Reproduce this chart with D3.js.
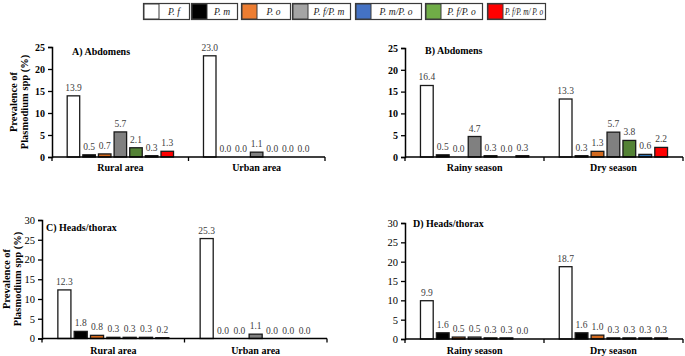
<!DOCTYPE html>
<html>
<head>
<meta charset="utf-8">
<script src="https://cdn.jsdelivr.net/npm/d3@7"></script>
<style>
  html, body { margin: 0; padding: 0; background: #fff; }
  svg { display: block; }
</style>
</head>
<body>
<svg id="chart" width="685" height="356" font-family="Liberation Serif, Times New Roman, Times, serif"></svg>
<script>
// ---- data ----
// bar order within each group
const series = ["P. f", "P. m", "P. o", "P. f/P. m", "P. f/P. o", "P. m/P. o", "P. f/P. m/ P. o"];
const seriesColors = ["#ffffff", "#000000", "#ed7d31", "#a5a5a5", "#70ad47", "#4472c4", "#ff0000"];
const barColors = ["#ffffff", "#000000", "#d2691e", "#808080", "#548235", "#2e75b6", "#ff0000"];
// order of entries in the legend (indices into series)
const legendOrder = [0, 1, 2, 3, 5, 4, 6];

const areaCategories = ["Rural area", "Urban area"];
const seasonCategories = ["Rainy season", "Dry season"];

// Panel A: Abdomens by area
const abdomenRural = [13.9, 0.5, 0.7, 5.7, 2.1, 0.3, 1.3];
const abdomenUrban = [23.0, 0.0, 0.0, 1.1, 0.0, 0.0, 0.0];
// Panel B: Abdomens by season
const abdomenRainy = [16.4, 0.5, 0.0, 4.7, 0.3, 0.0, 0.3];
const abdomenDry = [13.3, 0.3, 1.3, 5.7, 3.8, 0.6, 2.2];
// Panel C: Heads/thorax by area
const headRural = [12.3, 1.8, 0.8, 0.3, 0.3, 0.3, 0.2];
const headUrban = [25.3, 0.0, 0.0, 1.1, 0.0, 0.0, 0.0];
// Panel D: Heads/thorax by season
const headRainy = [9.9, 1.6, 0.5, 0.5, 0.3, 0.3, 0.0];
const headDry = [18.7, 1.6, 1.0, 0.3, 0.3, 0.3, 0.3];

const ticksAB = [0, 5, 10, 15, 20, 25];
const ticksCD = [0, 5, 10, 15, 20, 25, 30];

const yTitle1 = "Prevalence of";
const yTitle2 = "Plasmodium spp (%)";

// ---- drawing ----
const FONT = "Liberation Serif, Times New Roman, Times, serif";
const svg = d3.select("#chart");

// Legend
const legendBoxes = [
  {x: 143, w: 46}, {x: 191, w: 46}, {x: 241, w: 49}, {x: 292, w: 58},
  {x: 355, w: 66}, {x: 425, w: 57}, {x: 487, w: 58}
];
const legend = svg.append("g");
legendOrder.forEach((si, i) => {
  const b = legendBoxes[i];
  const g = legend.append("g").attr("transform", `translate(${b.x},3)`);
  g.append("rect").attr("x", 0.5).attr("y", 0.5).attr("width", b.w).attr("height", 16)
    .attr("fill", "#fff").attr("stroke", "#3a3a3a").attr("stroke-width", 1.2);
  g.append("rect").attr("x", 1).attr("y", 1).attr("width", 15).attr("height", 15)
    .attr("fill", seriesColors[si]).attr("stroke", "#3a3a3a").attr("stroke-width", 1);
  const t = g.append("text").attr("x", 16 + (b.w - 16) / 2).attr("y", 12)
    .attr("text-anchor", "middle").attr("font-size", 9.5).attr("font-style", "italic")
    .attr("font-family", FONT).attr("fill", "#222").text(series[si]);
  const avail = b.w - 16 - 4;
  if (t.node().getComputedTextLength() > avail) {
    t.attr("textLength", avail).attr("lengthAdjust", "spacingAndGlyphs");
  }
});

function drawPanel(opt) {
  const g = svg.append("g");
  const x0 = d3.scaleBand().domain(opt.categories).range([opt.xL, opt.xR])
    .paddingInner(0.197).paddingOuter(0.1);
  const x1 = d3.scaleBand().domain(d3.range(series.length)).range([0, x0.bandwidth()])
    .paddingInner(0.2).paddingOuter(0.1);
  const y = d3.scaleLinear().domain([0, opt.max]).range([opt.yB, opt.yT]);

  // bars
  opt.categories.forEach((c, ci) => {
    const vals = opt.data[ci];
    vals.forEach((v, si) => {
      const bx = x0(c) + x1(si);
      if (v > 0) {
        g.append("rect")
          .attr("x", bx).attr("width", x1.bandwidth())
          .attr("y", y(v)).attr("height", y(0) - y(v))
          .attr("fill", barColors[si]).attr("stroke", "#1a1a1a").attr("stroke-width", 1.3);
      }
      g.append("text")
        .attr("x", bx + x1.bandwidth() / 2)
        .attr("y", y(v) - 5)
        .attr("text-anchor", "middle").attr("font-size", 9.5).attr("fill", "#404040")
        .attr("font-family", FONT)
        .text(v.toFixed(1));
    });
  });

  // y axis
  const yAxis = d3.axisLeft(y).tickValues(opt.ticks).tickSize(4).tickPadding(3).tickFormat(d3.format("d"));
  const ya = g.append("g").attr("transform", `translate(${opt.xL},0)`).call(yAxis)
    .attr("font-family", FONT);
  ya.select(".domain").attr("stroke", "#000").attr("stroke-width", 1.5);
  ya.selectAll(".tick line").attr("stroke", "#000").attr("stroke-width", 1.3);
  ya.selectAll(".tick text").attr("font-size", opt.boldTicks ? 10 : 10.5).attr("fill", "#000")
    .attr("font-weight", opt.boldTicks ? "bold" : "normal")
    .attr("font-family", FONT);

  // x axis
  const xa = g.append("g").attr("transform", `translate(0,${opt.yB})`);
  xa.append("line").attr("x1", opt.xL).attr("x2", opt.xR).attr("stroke", "#000").attr("stroke-width", 1.5);
  const step = x0.step();
  const boundaries = [opt.xL, x0(opt.categories[1]) - step * 0.197 / 2, opt.xR];
  boundaries.forEach(bx => {
    xa.append("line").attr("x1", bx).attr("x2", bx).attr("y1", 0).attr("y2", 4)
      .attr("stroke", "#000").attr("stroke-width", 1.3);
  });
  opt.categories.forEach(c => {
    xa.append("text").attr("x", x0(c) + x0.bandwidth() / 2).attr("y", opt.catDy)
      .attr("text-anchor", "middle").attr("font-size", 10).attr("font-weight", "bold")
      .attr("font-family", FONT).attr("fill", "#000").text(c);
  });

  // panel title
  g.append("text").attr("x", opt.titleX).attr("y", opt.titleY)
    .attr("font-size", 10).attr("font-weight", "bold").attr("font-family", FONT)
    .attr("fill", "#000").text(opt.title);

  // y axis title
  if (opt.yTitleX !== undefined) {
    const t = g.append("text").attr("transform", `translate(${opt.yTitleX},${opt.yTitleCy}) rotate(-90)`)
      .attr("text-anchor", "middle").attr("font-size", 10.5).attr("font-weight", "bold")
      .attr("font-family", FONT).attr("fill", "#000");
    t.append("tspan").attr("x", 0).attr("dy", 0).text(yTitle1);
    t.append("tspan").attr("x", 0).attr("dy", 11).text(yTitle2);
  }
}

drawPanel({categories: areaCategories, data: [abdomenRural, abdomenUrban], xL: 52, xR: 325, yT: 47, yB: 157,
  max: 25, ticks: ticksAB, boldTicks: true, title: "A) Abdomens", titleX: 72, titleY: 55,
  yTitleX: 17, yTitleCy: 102, catDy: 14});
drawPanel({categories: seasonCategories, data: [abdomenRainy, abdomenDry], xL: 405, xR: 683, yT: 48, yB: 157,
  max: 25, ticks: ticksAB, boldTicks: true, title: "B) Abdomens", titleX: 425, titleY: 54, catDy: 14});
drawPanel({categories: areaCategories, data: [headRural, headUrban], xL: 42, xR: 327, yT: 220, yB: 338.5,
  max: 30, ticks: ticksCD, boldTicks: false, title: "C) Heads/thorax", titleX: 46, titleY: 231,
  yTitleX: 10, yTitleCy: 279, catDy: 15});
drawPanel({categories: seasonCategories, data: [headRainy, headDry], xL: 405, xR: 683, yT: 223, yB: 339,
  max: 30, ticks: ticksCD, boldTicks: false, title: "D) Heads/thorax", titleX: 413, titleY: 227, catDy: 15});
</script>
</body>
</html>
